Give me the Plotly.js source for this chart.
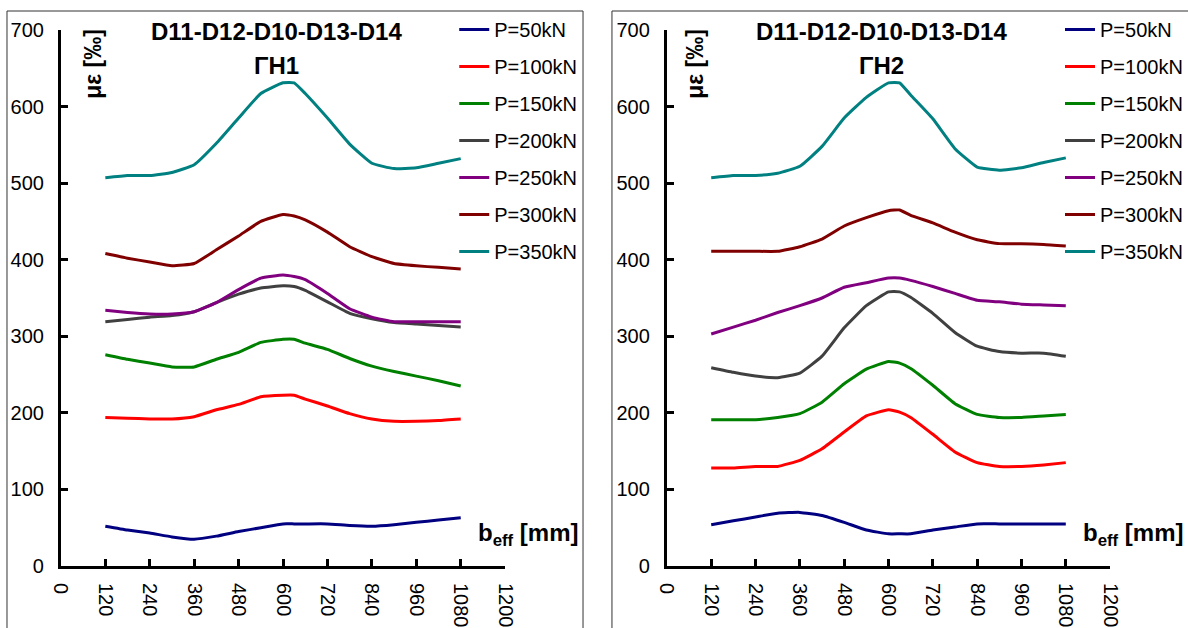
<!DOCTYPE html>
<html>
<head>
<meta charset="utf-8">
<script src="https://cdn.plot.ly/plotly-3.0.1.min.js"></script>
<style>html,body{margin:0;padding:0;background:#fff;}#chart{width:1188px;height:628px;}</style>
</head>
<body>
<div id="chart"></div>
<script>
// ---- data ----
const bEff = [120,180,240,300,360,420,480,540,600,630,660,720,780,840,900,960,1020,1080];
const seriesNames = ["P=50kN","P=100kN","P=150kN","P=200kN","P=250kN","P=300kN","P=350kN"];
const seriesColors = ["#000080","#FF0000","#008000","#404040","#800080","#800000","#008080"];
const xTicks = [0,120,240,360,480,600,720,840,960,1080,1200];
const yTicks = [0,100,200,300,400,500,600,700];
const panelTitles = ["ΓΗ1","ΓΗ2"];
const mainTitle = "D11-D12-D10-D13-D14";

// GH1 (left)
const gh1_p50  = [52,47,43,38,35,39,45,50,55,55,55,55,53,52,54,57,60,63];
const gh1_p100 = [194,193,192,192,195,204,211,221,223,223,218,209,199,192,189,189,190,192];
const gh1_p150 = [276,270,265,260,260,270,279,292,296,296,291,283,271,261,254,248,242,235];
const gh1_p200 = [319,322,325,327,332,344,355,363,366,365,360,345,330,323,318,316,314,312];
const gh1_p250 = [334,331,329,329,332,344,361,376,380,378,374,356,336,325,319,319,319,319];
const gh1_p300 = [408,402,397,392,395,413,431,450,459,457,452,436,417,404,395,392,390,388];
const gh1_p350 = [507,510,510,514,524,552,585,617,631,631,617,585,551,526,519,520,526,532];

// GH2 (right)
const gh2_p50  = [54,59,64,69,70,66,57,47,42,42,42,47,51,55,55,55,55,55];
const gh2_p100 = [128,128,130,130,138,153,175,196,204,201,194,172,149,135,130,130,132,135];
const gh2_p150 = [191,191,191,194,199,214,238,257,267,265,258,236,212,198,194,194,196,198];
const gh2_p200 = [259,253,248,246,252,274,311,340,358,358,351,330,305,287,280,278,278,274];
const gh2_p250 = [303,312,321,331,340,350,364,370,376,376,373,365,356,347,345,342,341,340];
const gh2_p300 = [411,411,411,411,417,427,444,455,464,465,458,448,436,426,421,421,420,418];
const gh2_p350 = [507,510,510,513,522,548,585,612,631,631,615,584,545,521,517,520,527,533];

const gh1 = [gh1_p50,gh1_p100,gh1_p150,gh1_p200,gh1_p250,gh1_p300,gh1_p350];
const gh2 = [gh2_p50,gh2_p100,gh2_p150,gh2_p200,gh2_p250,gh2_p300,gh2_p350];

// ---- helpers ----
const W = 1188, H = 628;
const px = v => v / W;
const py = v => 1 - v / H;

const traces = [];
[gh1, gh2].forEach((panel, pi) => {
  panel.forEach((vals, si) => {
    traces.push({
      x: bEff, y: vals, type: 'scatter', mode: 'lines',
      name: seriesNames[si],
      line: {color: seriesColors[si], width: 3, shape: 'spline', smoothing: 0.4},
      xaxis: pi === 0 ? 'x' : 'x2',
      yaxis: pi === 0 ? 'y' : 'y2',
      legend: pi === 0 ? 'legend' : 'legend2',
      legendgroup: 'g' + pi + '_' + si,
      hoverinfo: 'skip'
    });
  });
});

const font = 'Arial, "Liberation Sans", sans-serif';
const yDom = [py(566), py(30)];

function xAxis(dom, anchor) {
  return {
    domain: dom, anchor: anchor, range: [0, 1200], tickvals: xTicks,
    ticktext: xTicks.map(String), tickangle: 90,
    ticks: 'inside', ticklen: 7, tickwidth: 3, tickcolor: '#000',
    showline: true, linecolor: '#000', linewidth: 3,
    showgrid: false, zeroline: false, fixedrange: true,
    ticklabelstandoff: 10,
    tickfont: {family: font, size: 20, color: '#000'}
  };
}
function yAxis(anchor) {
  return {
    domain: yDom, anchor: anchor, range: [0, 700], tickvals: yTicks,
    ticks: 'inside', ticklen: 7, tickwidth: 3, tickcolor: '#000',
    showline: true, linecolor: '#000', linewidth: 3,
    showgrid: false, zeroline: false, fixedrange: true,
    ticklabelstandoff: 10,
    tickfont: {family: font, size: 20, color: '#000'}
  };
}
function legend(xpx) {
  return {
    x: px(xpx), y: py(10), xanchor: 'left', yanchor: 'top',
    bgcolor: 'rgba(0,0,0,0)', borderwidth: 0,
    font: {family: font, size: 20, color: '#000'},
    traceorder: 'grouped', tracegroupgap: 8, itemclick: false, itemdoubleclick: false
  };
}

const annotations = [];
[[277, 93, 477], [883, 696, 1083]].forEach((p, i) => {
  annotations.push({xref: 'paper', yref: 'paper', x: px(p[0]), y: py(31), text: '<b>' + mainTitle + '</b>',
    showarrow: false, xanchor: 'center', yanchor: 'middle', font: {family: font, size: 24, color: '#000'}});
  annotations.push({xref: 'paper', yref: 'paper', x: px(p[0]), y: py(66), text: '<b>' + panelTitles[i] + '</b>',
    showarrow: false, xanchor: 'center', yanchor: 'middle', font: {family: font, size: 24, color: '#000'}});
  annotations.push({xref: 'paper', yref: 'paper', x: px(p[1]), y: py(64), text: '<b>με [‰]</b>', textangle: -90,
    showarrow: false, xanchor: 'center', yanchor: 'middle', font: {family: font, size: 23, color: '#000'}});
  annotations.push({xref: 'paper', yref: 'paper', x: px(p[2]), y: py(534), text: '<b>b<sub>eff</sub> [mm]</b>',
    showarrow: false, xanchor: 'left', yanchor: 'middle', font: {family: font, size: 24, color: '#000'}});
});

const shapes = [
  {type: 'rect', xref: 'paper', yref: 'paper', x0: px(7), x1: px(584), y0: -0.1, y1: py(11), line: {color: '#333', width: 1}},
  {type: 'rect', xref: 'paper', yref: 'paper', x0: px(613), x1: px(1200), y0: -0.1, y1: py(11), line: {color: '#333', width: 1}}
];

const layout = {
  width: W, height: H,
  margin: {l: 0, r: 0, t: 0, b: 0},
  paper_bgcolor: '#fff', plot_bgcolor: 'rgba(0,0,0,0)',
  showlegend: true,
  xaxis: xAxis([px(61), px(506)], 'y'),
  yaxis: yAxis('x'),
  xaxis2: xAxis([px(668), px(1112)], 'y2'),
  yaxis2: yAxis('x2'),
  legend: legend(455),
  legend2: legend(1062),
  annotations: annotations,
  shapes: shapes
};

Plotly.newPlot('chart', traces, layout, {staticPlot: true, displayModeBar: false});
</script>
</body>
</html>
